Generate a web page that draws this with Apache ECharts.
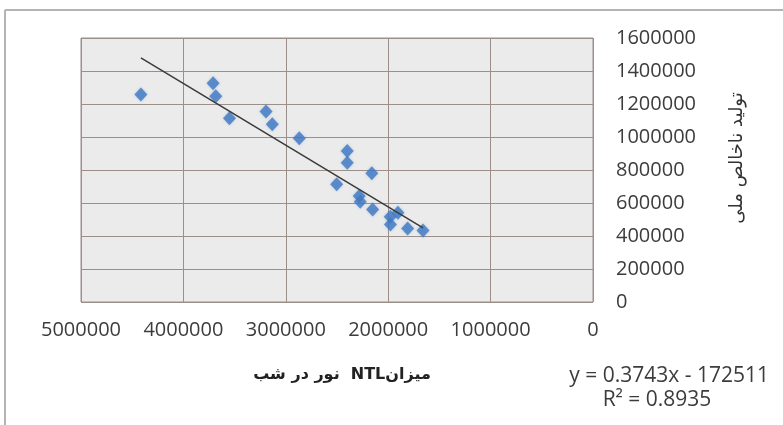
<!DOCTYPE html>
<html><head><meta charset="utf-8">
<script src="https://cdn.jsdelivr.net/npm/echarts@6/dist/echarts.min.js"></script>
<style>html,body{margin:0;padding:0;background:#fff;overflow:hidden}#c{width:783px;height:425px}</style>
</head><body><div id="c"></div>
<script>
// Night-time light (NTL) vs GDP
const ntl = [4415000, 3710000, 3684000, 3550000, 3193000, 3132000, 2868000, 2400000, 2400000, 2160000, 2503000, 2283000, 2273000, 2152000, 1905000, 1980000, 1978000, 1810000, 1660000];
const gdp = [1258000, 1326000, 1247000, 1114000, 1154000, 1078000, 992000, 915000, 844000, 780000, 713000, 642000, 607000, 561000, 541000, 516000, 470000, 446000, 433000];
const xTicks = [0, 1000000, 2000000, 3000000, 4000000, 5000000];
const yTicks = [0, 200000, 400000, 600000, 800000, 1000000, 1200000, 1400000, 1600000];
const slope = 0.3743, intercept = -172511;
const eqText = 'y = 0.3743x - 172511';
const r2Text = 'R\u00B2 = 0.8935';
const xName = '\u202Bمیزان\u200CNTL  نور در شب\u202C';
const yName = 'تولید ناخالص ملی';

const points = ntl.map((v, i) => [v, gdp[i]]);
const xMin = Math.min(...ntl), xMax = Math.max(...ntl);
const trend = [[xMin, slope * xMin + intercept], [xMax, slope * xMax + intercept]];

const txt = '#3c3c3c';
const gridC = '#9c8f8a';
const font = 'Open Sans';
const plain = v => String(v);

const chart = echarts.init(document.getElementById('c'), null, {renderer: 'canvas'});
chart.setOption({
  animation: false,
  backgroundColor: '#ffffff',
  grid: {left: 81, right: 190, top: 38, bottom: 123, show: true, backgroundColor: '#ebebeb', borderColor: gridC, borderWidth: 1},
  xAxis: {
    type: 'value', inverse: true, min: xTicks[0], max: xTicks[xTicks.length - 1], interval: 1000000,
    axisLine: {show: false}, axisTick: {show: false},
    splitLine: {show: true, lineStyle: {color: gridC, width: 1}},
    axisLabel: {color: txt, fontFamily: font, fontSize: 20, margin: 18, formatter: plain, showMinLabel: true, showMaxLabel: true},
    name: xName, nameLocation: 'middle', nameGap: 65,
    nameTextStyle: {color: '#222', fontSize: 16, fontWeight: 'bold', fontFamily: 'DejaVu Sans', padding: [0, 0, 0, 10]}
  },
  yAxis: {
    type: 'value', position: 'right', min: yTicks[0], max: yTicks[yTicks.length - 1], interval: 200000,
    axisLine: {show: false}, axisTick: {show: false},
    splitLine: {show: true, lineStyle: {color: gridC, width: 1}},
    axisLabel: {color: txt, fontFamily: font, fontSize: 20, margin: 23, align: 'left', formatter: plain}
  },
  graphic: [
    {type: 'line', shape: {x1: 5, y1: 10, x2: 783, y2: 10}, style: {stroke: '#b4b4b4', lineWidth: 2}, silent: true},
    {type: 'line', shape: {x1: 5, y1: 10, x2: 5, y2: 425}, style: {stroke: '#b4b4b4', lineWidth: 2}, silent: true},
    {type: 'text', x: 737, y: 158, rotation: Math.PI / 2,
      style: {text: yName, fill: '#333', font: '18px "DejaVu Sans"', textAlign: 'center', textVerticalAlign: 'middle'}},
    {type: 'text', x: 769, y: 376, style: {text: eqText, fill: txt, font: '21px "Open Sans"', textAlign: 'right', textVerticalAlign: 'middle'}},
    {type: 'text', x: 657, y: 400, style: {text: r2Text, fill: txt, font: '21px "Open Sans"', textAlign: 'center', textVerticalAlign: 'middle'}}
  ],
  series: [
    {type: 'scatter', data: points, symbol: 'diamond', symbolSize: [13, 14],
      itemStyle: {color: '#3f78c3', shadowColor: 'rgba(63,120,195,0.35)', shadowBlur: 3}},
    {type: 'line', data: trend, symbol: 'none', lineStyle: {color: '#3a3a3a', width: 1.5}, z: 3}
  ]
});
</script></body></html>
